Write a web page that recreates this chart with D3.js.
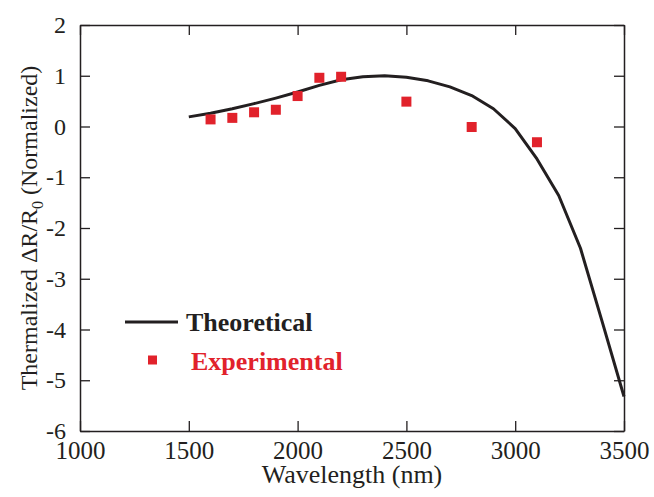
<!DOCTYPE html>
<html>
<head>
<meta charset="utf-8">
<script src="https://cdn.jsdelivr.net/npm/d3@7"></script>
<style>
  body { margin: 0; background: #fff; }
  text { font-family: "Liberation Serif", "Times New Roman", serif; fill: #231f20; }
</style>
</head>
<body>
<div id="chart"></div>
<script>
// theoretical curve
const theoryX = [1500, 1600, 1700, 1800, 1900, 2000, 2100, 2200, 2300, 2400, 2500,
                 2600, 2700, 2800, 2900, 3000, 3100, 3200, 3300, 3400, 3500];
const theoryY = [0.19, 0.26, 0.35, 0.45, 0.56, 0.68, 0.81, 0.92, 0.98, 1.0, 0.97,
                 0.90, 0.78, 0.61, 0.35, -0.04, -0.64, -1.36, -2.4, -3.85, -5.32];
// experimental points
const expX = [1600, 1700, 1800, 1900, 2000, 2100, 2200, 2500, 2800, 3100];
const expY = [0.14, 0.17, 0.28, 0.33, 0.60, 0.96, 0.98, 0.49, -0.01, -0.31];

const xTicks = [1000, 1500, 2000, 2500, 3000, 3500];
const yTicks = [2, 1, 0, -1, -2, -3, -4, -5, -6];

const black = "#231f20", red = "#e1222b";

var margin = {top: 25, right: 30, bottom: 66, left: 80},
    width = 654 - margin.left - margin.right,
    height = 497 - margin.top - margin.bottom;

var svg = d3.select("#chart")
  .append("svg")
    .attr("width", 654)
    .attr("height", 497)
  .append("g")
    .attr("transform", "translate(" + margin.left + "," + margin.top + ")");

var x = d3.scaleLinear().domain([1000, 3500]).range([0, width]);
var y = d3.scaleLinear().domain([-6, 2]).range([height, 0]);

// plain labels, hyphen minus, no thousands comma
var plain = d => String(d);

function styleAxis(g) {
  g.selectAll("path, line").attr("stroke", black).attr("stroke-width", 1.3);
}

// bottom axis with labels
svg.append("g")
  .attr("transform", "translate(0," + height + ")")
  .call(d3.axisBottom(x).tickValues(xTicks).tickFormat(plain).tickSizeInner(-10).tickSizeOuter(0).tickPadding(10))
  .call(styleAxis)
  .selectAll("text").style("font-size", "25px").attr("fill", black);

// left axis with labels
svg.append("g")
  .call(d3.axisLeft(y).tickValues(yTicks).tickFormat(plain).tickSizeInner(-10).tickSizeOuter(0).tickPadding(14))
  .call(styleAxis)
  .selectAll("text").style("font-size", "24px").attr("fill", black);

// top and right, ticks only
svg.append("g")
  .call(d3.axisTop(x).tickValues(xTicks).tickSizeInner(-10).tickSizeOuter(0).tickFormat(""))
  .call(styleAxis);
svg.append("g")
  .attr("transform", "translate(" + width + ",0)")
  .call(d3.axisRight(y).tickValues(yTicks).tickSizeInner(-10).tickSizeOuter(0).tickFormat(""))
  .call(styleAxis);

svg.selectAll(".domain").attr("stroke-width", 1.5);

// axis titles
svg.append("text")
  .attr("x", width / 2)
  .attr("y", height + 52)
  .attr("text-anchor", "middle")
  .style("font-size", "26px")
  .text("Wavelength (nm)");

var yt = svg.append("text")
  .attr("transform", "translate(" + (37 - margin.left) + "," + (height / 2) + ") rotate(-90)")
  .attr("text-anchor", "middle")
  .style("font-size", "24px");
yt.append("tspan").text("Thermalized \u0394R/R");
yt.append("tspan").attr("dy", 6).style("font-size", "16px").text("0");
yt.append("tspan").attr("dy", -6).text(" (Normalized)");

// theoretical line
var line = d3.line()
  .x((d, i) => x(theoryX[i]))
  .y(d => y(d));

svg.append("path")
  .datum(theoryY)
  .attr("fill", "none")
  .attr("stroke", black)
  .attr("stroke-width", 3)
  .attr("stroke-linejoin", "round")
  .attr("d", line);

// experimental squares
var sq = 10;
svg.append("g")
  .selectAll("rect")
  .data(expY)
  .enter()
  .append("rect")
    .attr("x", (d, i) => x(expX[i]) - sq / 2)
    .attr("y", d => y(d) - sq / 2)
    .attr("width", sq)
    .attr("height", sq)
    .attr("fill", red);

// legend
var lg = svg.append("g").attr("transform", "translate(" + (-margin.left) + "," + (-margin.top) + ")");
lg.append("line")
  .attr("x1", 125).attr("x2", 178)
  .attr("y1", 322).attr("y2", 322)
  .attr("stroke", black).attr("stroke-width", 3);
lg.append("text")
  .attr("x", 186).attr("y", 331)
  .style("font-size", "26px").style("font-weight", "bold")
  .text("Theoretical");
lg.append("rect")
  .attr("x", 148).attr("y", 355.5)
  .attr("width", 9).attr("height", 9)
  .attr("fill", red);
lg.append("text")
  .attr("x", 191).attr("y", 370)
  .style("font-size", "26px").style("font-weight", "bold")
  .style("fill", red)
  .text("Experimental");
</script>
</body>
</html>
